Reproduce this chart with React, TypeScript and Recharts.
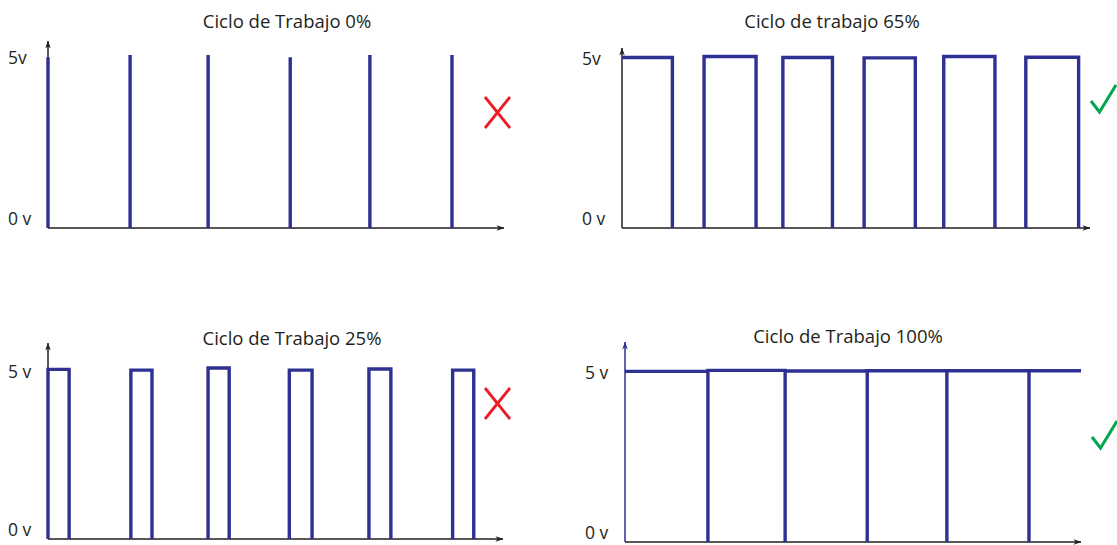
import React from "react";
import { LineChart, Line, XAxis, YAxis } from "recharts";

// t is measured in PWM periods, v in volts
const spikes0 = [0, 1.01, 1.97, 2.98, 3.96, 4.97];
const spikeTops0 = [4.97, 5.03, 5.03, 4.97, 5.03, 5.03];

const rises65 = [0, 1.01, 1.98, 2.98, 3.96, 4.97];
const falls65 = [0.62, 1.65, 2.59, 3.61, 4.59, 5.62];
const tops65 = [4.99, 5.02, 4.99, 4.98, 5.02, 5.0];

const rises25 = [0, 1.02, 1.97, 2.97, 3.95, 4.98];
const falls25 = [0.26, 1.28, 2.23, 3.25, 4.22, 5.24];
const tops25 = [5.01, 4.99, 5.05, 4.99, 5.02, 4.99];

const edges100 = [1.02, 1.97, 2.98, 3.96, 4.97];
const tops100 = [4.99, 5.02, 5.0, 5.01, 5.01, 5.01];
const end100 = 5.61;

const voltTicks = [0, 5];
const labelsNoSpace: Record<number, string> = { 0: "0 v", 5: "5v" };
const labelsSpaced: Record<number, string> = { 0: "0 v", 5: "5 v" };

const BLUE = "#2e3192";
const INK = "#231f20";
const FONT = "'Open Sans', sans-serif";

type Pt = { t: number; v: number | null };

// rectangular pulses; the low level is left undrawn, so each pulse ends with a gap
const pulses = (rises: number[], falls: number[], tops: number[], fromLow = true): Pt[] => {
  const pts: Pt[] = [];
  rises.forEach((r, i) => {
    if (i > 0 || fromLow) pts.push({ t: r, v: 0 });
    pts.push({ t: r, v: tops[i] }, { t: falls[i], v: tops[i] }, { t: falls[i], v: 0 }, { t: falls[i], v: null });
  });
  return pts;
};

// always-high signal with period markers dropping to the baseline
const steady = (edges: number[], tops: number[], end: number): Pt[] => {
  const pts: Pt[] = [{ t: 0, v: tops[0] }];
  edges.forEach((e, i) => {
    pts.push({ t: e, v: tops[i] }, { t: e, v: 0 }, { t: e, v: tops[i + 1] });
  });
  pts.push({ t: end, v: tops[tops.length - 1] });
  return pts;
};

const VoltTick = (props: any) => {
  const { x, y, payload, labels } = props;
  return (
    <text
      x={x - 40}
      y={y + (payload.value === 0 ? -9 : 2)}
      dy="0.35em"
      textAnchor="start"
      fontFamily={FONT}
      fontSize={17.5}
      fill={INK}
    >
      {labels[payload.value]}
    </text>
  );
};

const Cross = ({ x, y }: { x: number; y: number }) => (
  <g stroke="#ed1c24" strokeWidth={2.8} fill="none">
    <line x1={x} y1={y} x2={x + 25} y2={y + 31} />
    <line x1={x + 25} y1={y} x2={x} y2={y + 31} />
  </g>
);

const Check = ({ x, y }: { x: number; y: number }) => (
  <polyline
    points={`${x},${y + 16} ${x + 8.5},${y + 27} ${x + 25},${y}`}
    stroke="#00a651"
    strokeWidth={3}
    fill="none"
    strokeLinejoin="miter"
  />
);

type PanelProps = {
  id: string;
  left: number;
  top: number;
  width: number;
  height: number;
  plot: { x: number; y: number; right: number; bottom: number };
  xMax: number;
  yMax: number;
  data: Pt[];
  title: string;
  titleX: number;
  titleY: number;
  labels: Record<number, string>;
  yAxisColor?: string;
  children?: React.ReactNode;
};

const X_AXIS_H = 2;

const Panel = ({
  id, left, top, width, height, plot, xMax, yMax, data, title, titleX, titleY, labels, yAxisColor = INK, children,
}: PanelProps) => (
  <div style={{ position: "absolute", left, top }}>
    <LineChart
      width={width}
      height={height}
      data={data}
      margin={{ top: plot.y, right: width - plot.right, bottom: height - plot.bottom - X_AXIS_H, left: 0 }}
    >
      <defs>
        <marker id={`${id}-up`} viewBox="0 0 10 7" refX="9.5" refY="3.5" markerWidth="8" markerHeight="5.6"
          markerUnits="userSpaceOnUse" orient="auto-start-reverse">
          <path d="M0,0 L10,3.5 L0,7 L3,3.5 Z" fill={yAxisColor} />
        </marker>
        <marker id={`${id}-right`} viewBox="0 0 10 7" refX="9.5" refY="3.5" markerWidth="8" markerHeight="5.6"
          markerUnits="userSpaceOnUse" orient="auto-start-reverse">
          <path d="M0,0 L10,3.5 L0,7 L3,3.5 Z" fill={INK} />
        </marker>
      </defs>
      <XAxis
        type="number"
        dataKey="t"
        domain={[0, xMax]}
        ticks={[0]}
        tick={false}
        tickLine={false}
        height={X_AXIS_H}
        axisLine={{ stroke: INK, strokeWidth: 1.5, markerEnd: `url(#${id}-right)` }}
      />
      <YAxis
        type="number"
        domain={[0, yMax]}
        ticks={voltTicks}
        interval={0}
        width={plot.x}
        tickLine={false}
        tickSize={0}
        tickMargin={0}
        tick={(p: any) => <VoltTick {...p} labels={labels} />}
        axisLine={{ stroke: yAxisColor, strokeWidth: 1.5, markerStart: `url(#${id}-up)` }}
      />
      <Line
        dataKey="v"
        stroke={BLUE}
        strokeWidth={3.4}
        strokeLinejoin="miter"
        strokeLinecap="butt"
        dot={false}
        activeDot={false}
        isAnimationActive={false}
        zIndex={700}
      />
      <text x={titleX} y={titleY} textAnchor="middle" fontFamily={FONT} fontSize={18.5} fill={INK}>
        {title}
      </text>
      {children}
    </LineChart>
  </div>
);

export default function App() {
  return (
    <div style={{ position: "absolute", left: 0, top: 0, width: 1117, height: 545, background: "#fff" }}>
      <Panel
        id="p0"
        left={0}
        top={0}
        width={560}
        height={270}
        plot={{ x: 48, y: 41, right: 504, bottom: 228 }}
        xMax={5.61}
        yMax={5.44}
        data={pulses(spikes0, spikes0, spikeTops0)}
        title="Ciclo de Trabajo 0%"
        titleX={287}
        titleY={28}
        labels={labelsNoSpace}
      >
        <Cross x={485} y={97} />
      </Panel>
      <Panel
        id="p65"
        left={560}
        top={0}
        width={557}
        height={270}
        plot={{ x: 62, y: 48, right: 530, bottom: 228 }}
        xMax={5.76}
        yMax={5.27}
        data={pulses(rises65, falls65, tops65, false)}
        title="Ciclo de trabajo 65%"
        titleX={272}
        titleY={28}
        labels={labelsNoSpace}
      >
        <Check x={531} y={85} />
      </Panel>
      <Panel
        id="p25"
        left={0}
        top={290}
        width={560}
        height={255}
        plot={{ x: 48, y: 53, right: 503, bottom: 249 }}
        xMax={5.6}
        yMax={5.79}
        data={pulses(rises25, falls25, tops25)}
        title="Ciclo de Trabajo 25%"
        titleX={292}
        titleY={55}
        labels={labelsSpaced}
      >
        <Cross x={485} y={98} />
      </Panel>
      <Panel
        id="p100"
        left={560}
        top={290}
        width={557}
        height={255}
        plot={{ x: 65, y: 52, right: 521, bottom: 252 }}
        xMax={5.61}
        yMax={5.85}
        data={steady(edges100, tops100, end100)}
        title="Ciclo de Trabajo 100%"
        titleX={288}
        titleY={53}
        labels={labelsSpaced}
        yAxisColor={BLUE}
      >
        <Check x={532} y={131} />
      </Panel>
    </div>
  );
}
